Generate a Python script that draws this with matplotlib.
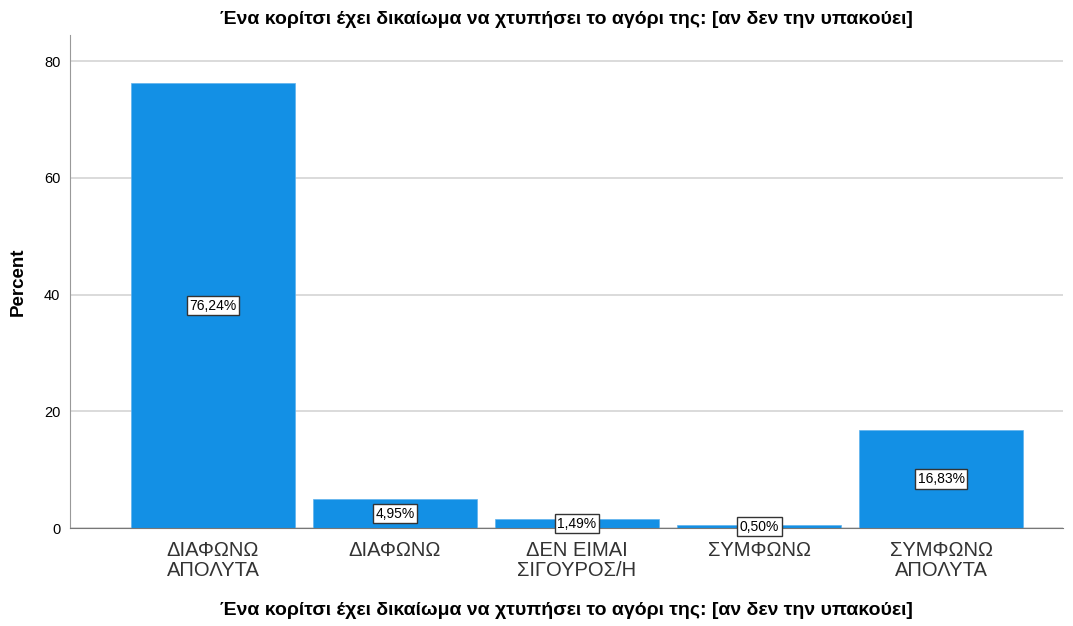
import matplotlib.pyplot as plt

plt.rcParams['font.family'] = ['Liberation Sans', 'DejaVu Sans']

categories = ['ΔΙΑΦΩΝΩ\nΑΠΟΛΥΤΑ', 'ΔΙΑΦΩΝΩ', 'ΔΕΝ ΕΙΜΑΙ\nΣΙΓΟΥΡΟΣ/Η', 'ΣΥΜΦΩΝΩ', 'ΣΥΜΦΩΝΩ\nΑΠΟΛΥΤΑ']
percent = [76.24, 4.95, 1.49, 0.50, 16.83]
labels = ['76,24%', '4,95%', '1,49%', '0,50%', '16,83%']
title = 'Ένα κορίτσι έχει δικαίωμα να χτυπήσει το αγόρι της: [αν δεν την υπακούει]'

fig = plt.figure(figsize=(10.73, 6.26), dpi=100)
ax = fig.add_axes([70 / 1073, (626 - 528) / 626, (1063 - 70) / 1073, (528 - 35) / 626])

x = range(len(categories))
ax.set_axisbelow(True)
ax.yaxis.grid(True, color='#d4d4d4', linewidth=1.2)
ax.bar(x, percent, width=0.9, color='#1390e5', edgecolor='#5fb2ee', linewidth=0.5)

for i, (v, lab) in enumerate(zip(percent, labels)):
    ax.text(i, v / 2, lab, ha='center', va='center', fontsize=10,
            bbox=dict(boxstyle='square,pad=0.2', facecolor='white', edgecolor='#333333', linewidth=1))

ax.set_xlim(-0.786, 4.67)
ax.set_ylim(0, 84.5)
ax.set_yticks([0, 20, 40, 60, 80])
ax.set_xticks(list(x))
ax.set_xticklabels(categories, fontsize=14.5, color='#333333', linespacing=1.1)
ax.tick_params(axis='y', labelsize=10.5, length=0, pad=7)
ax.tick_params(axis='x', length=0, pad=9)

for s in ['top', 'right']:
    ax.spines[s].set_visible(False)
ax.spines['left'].set_color('#999999')
ax.spines['bottom'].set_color('#777777')

ax.set_ylabel('Percent', fontsize=13.5, fontweight='bold', labelpad=12)
ax.set_xlabel(title, fontsize=14, fontweight='bold', labelpad=16)
ax.set_title(title, fontsize=14, fontweight='bold', pad=8)

fig.savefig('out.png', dpi=100)
